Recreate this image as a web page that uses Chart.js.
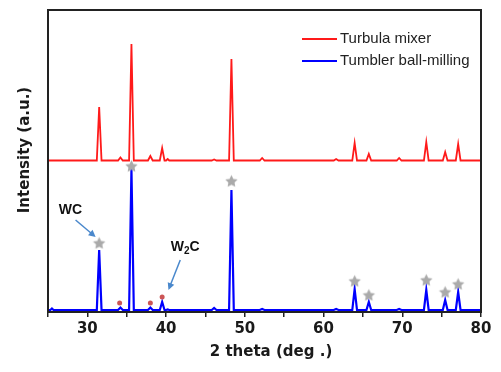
<!DOCTYPE html>
<html>
<head>
<meta charset="utf-8">
<script src="https://cdn.jsdelivr.net/npm/chart.js@4.4.0/dist/chart.umd.min.js"></script>
<style>
html, body { margin: 0; padding: 0; background: #fff; }
#wrap { width: 501px; height: 372px; }
</style>
</head>
<body>
<div id="wrap"><canvas id="chart"></canvas></div>
<script>
// 2 theta samples (deg), three points per reflection
const twoTheta = [
    25, 25.3, 25.5, 25.7,
    31.2, 31.5, 31.8,
    33.9, 34.2, 34.5,
    35.3, 35.6, 35.9,
    37.7, 38.0, 38.3,
    39.2, 39.5, 39.8,
    40.0, 40.2, 40.4,
    45.8, 46.1, 46.4,
    48.0, 48.3, 48.6,
    51.9, 52.2, 52.5,
    61.3, 61.6, 61.9,
    63.65, 63.95, 64.25,
    65.45, 65.75, 66.05,
    69.3, 69.6, 69.9,
    72.75, 73.05, 73.35,
    75.15, 75.45, 75.75,
    76.8, 77.1, 77.4,
    80
]
// Turbula mixer (shifted up)
const turbula = [
    151.5, 151.5, 151.5, 151.5,
    151.5, 205, 151.5,
    151.5, 154.5, 151.5,
    151.5, 268, 151.5,
    151.5, 156, 151.5,
    151.5, 164, 151.5,
    151.5, 153, 151.5,
    151.5, 152.5, 151.5,
    151.5, 253, 151.5,
    151.5, 154, 151.5,
    151.5, 153, 151.5,
    151.5, 169, 151.5,
    151.5, 158, 151.5,
    151.5, 154, 151.5,
    151.5, 170, 151.5,
    151.5, 160, 151.5,
    151.5, 168, 151.5,
    151.5
]
// Tumbler ball-milling
const tumbler = [
    2, 2, 3.5, 2,
    2, 62, 2,
    2, 4.5, 2,
    2, 143, 2,
    2, 4.5, 2,
    2, 10, 2,
    2, 2.5, 2,
    2, 4, 2,
    2, 122, 2,
    2, 3, 2,
    2, 3, 2,
    2, 23, 2,
    2, 10, 2,
    2, 3, 2,
    2, 22, 2,
    2, 12, 2,
    2, 20, 2,
    2
]
// phase markers
const wcTheta = [31.5, 35.6, 48.3, 63.95, 65.75, 73.05, 75.45, 77.1]
const wcMark = [69, 146, 131, 31, 17, 32, 20, 28]
const w2cTheta = [34.1, 38.0, 39.5]
const w2cMark = [9, 9, 15]

const seriesNames = ['Turbula mixer', 'Tumbler ball-milling']
const seriesColors = ['#ff1a1a', '#0000ff']

const xy = (xs, ys) => xs.map((x, i) => ({ x: x, y: ys[i] }))

function starImage(r, color) {
    const c = document.createElement('canvas')
    const s = Math.ceil(r * 2) + 2
    c.width = s
    c.height = s
    const g = c.getContext('2d')
    g.fillStyle = color
    g.beginPath()
    for (let i = 0; i < 10; i++) {
        const rad = i % 2 ? r * 0.5 : r
        const a = -Math.PI / 2 + i * Math.PI / 5
        g.lineTo(s / 2 + rad * Math.cos(a), s / 2 + 0.6 + rad * Math.sin(a))
    }
    g.closePath()
    g.fill()
    return c
}

function arrow(ctx, x1, y1, x2, y2, color) {
    const a = Math.atan2(y2 - y1, x2 - x1)
    ctx.strokeStyle = color
    ctx.fillStyle = color
    ctx.lineWidth = 1.5
    ctx.beginPath()
    ctx.moveTo(x1, y1)
    ctx.lineTo(x2 - 5 * Math.cos(a), y2 - 5 * Math.sin(a))
    ctx.stroke()
    ctx.beginPath()
    ctx.moveTo(x2, y2)
    ctx.lineTo(x2 - 7 * Math.cos(a) + 3.5 * Math.sin(a), y2 - 7 * Math.sin(a) - 3.5 * Math.cos(a))
    ctx.lineTo(x2 - 7 * Math.cos(a) - 3.5 * Math.sin(a), y2 - 7 * Math.sin(a) + 3.5 * Math.cos(a))
    ctx.closePath()
    ctx.fill()
}

const extras = {
    id: 'extras',
    afterDraw(chart) {
        const ctx = chart.ctx
        const area = chart.chartArea
        const xs = chart.scales.x
        const ys = chart.scales.y
        ctx.save()
        // frame
        ctx.strokeStyle = '#222'
        ctx.lineWidth = 2
        ctx.strokeRect(area.left, area.top, area.right - area.left, area.bottom - area.top)

        // legend
        ctx.font = '15px "Liberation Sans", Arial, sans-serif'
        ctx.textBaseline = 'middle'
        seriesNames.forEach((name, i) => {
            const y = 39 + i * 22
            ctx.strokeStyle = seriesColors[i]
            ctx.lineWidth = 2
            ctx.beginPath()
            ctx.moveTo(302, y)
            ctx.lineTo(337, y)
            ctx.stroke()
            ctx.fillStyle = '#222'
            ctx.textAlign = 'left'
            ctx.fillText(name, 340, y)
        })

        // phase labels with arrows
        const blue = '#4a88cc'
        ctx.fillStyle = '#111'
        ctx.font = 'bold 14px "Liberation Sans", Arial, sans-serif'
        ctx.textAlign = 'center'
        ctx.fillText('WC', xs.getPixelForValue(27.85), ys.getPixelForValue(102))
        arrow(ctx, xs.getPixelForValue(28.5), ys.getPixelForValue(92),
            xs.getPixelForValue(31.05), ys.getPixelForValue(75), blue)

        let px = xs.getPixelForValue(40.6)
        const py = ys.getPixelForValue(65)
        ctx.fillStyle = '#111'
        ctx.textAlign = 'left'
        ctx.fillText('W', px, py)
        px += ctx.measureText('W').width
        ctx.font = 'bold 10px "Liberation Sans", Arial, sans-serif'
        ctx.fillText('2', px, py + 4)
        px += ctx.measureText('2').width
        ctx.font = 'bold 14px "Liberation Sans", Arial, sans-serif'
        ctx.fillText('C', px, py)
        arrow(ctx, xs.getPixelForValue(41.8), ys.getPixelForValue(52),
            xs.getPixelForValue(40.3), ys.getPixelForValue(22), blue)

        // axis titles
        ctx.fillStyle = '#1a1a1a'
        ctx.font = 'bold 15px "DejaVu Sans", Verdana, sans-serif'
        ctx.textAlign = 'center'
        ctx.fillText('2 theta (deg .)', 271, 352)
        ctx.translate(25, 150)
        ctx.rotate(-Math.PI / 2)
        ctx.fillText('Intensity (a.u.)', 0, 0)
        ctx.restore()
    }
}

new Chart(document.getElementById('chart').getContext('2d'), {
    type: 'scatter',
    data: {
        datasets: [
            {
                label: seriesNames[0],
                data: xy(twoTheta, turbula),
                showLine: true,
                borderColor: seriesColors[0],
                borderWidth: 1.8,
                pointRadius: 0,
                order: 3
            },
            {
                label: seriesNames[1],
                data: xy(twoTheta, tumbler),
                showLine: true,
                borderColor: seriesColors[1],
                borderWidth: 2.2,
                pointRadius: 0,
                order: 2
            },
            {
                label: 'WC',
                data: xy(wcTheta, wcMark),
                pointStyle: starImage(6.5, '#aaaaaa'),
                pointRadius: 6,
                order: 0
            },
            {
                label: 'W2C',
                data: xy(w2cTheta, w2cMark),
                pointStyle: 'circle',
                pointRadius: 2.5,
                backgroundColor: '#cc5555',
                borderWidth: 0,
                order: 1
            }
        ]
    },
    options: {
        responsive: true,
        maintainAspectRatio: false,
        animation: false,
        layout: { padding: { left: 48, top: 10, right: 20, bottom: 0 } },
        plugins: { legend: { display: false }, tooltip: { enabled: false } },
        scales: {
            x: {
                type: 'linear',
                min: 25,
                max: 80,
                afterFit: (scale) => { scale.height = 60 },
                border: { display: true, color: '#222', width: 2 },
                grid: { drawOnChartArea: false, drawTicks: true, tickLength: 5, color: '#222', lineWidth: 1.5 },
                ticks: {
                    stepSize: 5,
                    padding: 3,
                    maxRotation: 0,
                    autoSkip: false,
                    color: '#1a1a1a',
                    font: { family: '"DejaVu Sans", Verdana, sans-serif', size: 15, weight: 'bold' },
                    callback: (v) => (v % 10 === 0 ? v : '')
                }
            },
            y: {
                display: false,
                min: 0,
                max: 302
            }
        }
    },
    plugins: [extras]
})
</script>
</body>
</html>
